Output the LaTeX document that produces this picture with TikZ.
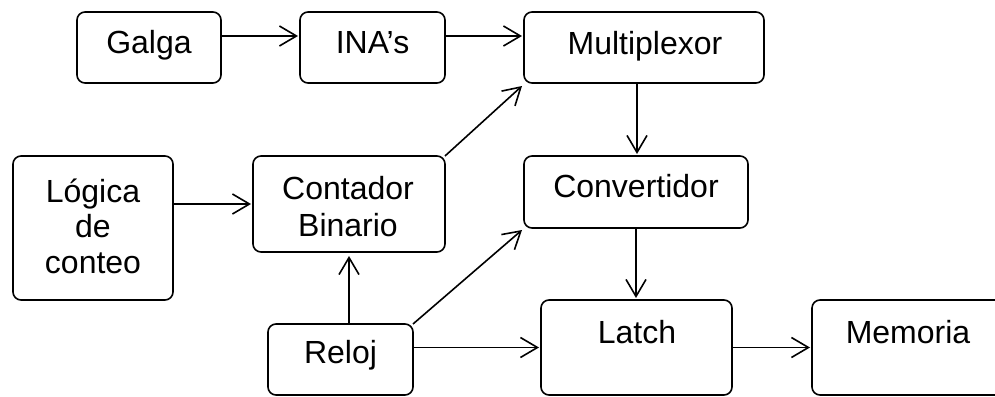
\documentclass[tikz,border=0pt]{standalone}
\usepackage{fontspec}
\setmainfont{Liberation Sans}
\usetikzlibrary{arrows.meta}
\begin{document}
\begin{tikzpicture}[x=1pt,y=-1pt,
  box/.style={draw=black, line width=1.6pt, rounded corners=8pt, inner sep=0pt, outer sep=0pt, rectangle},
  lbl/.style={anchor=base, inner sep=0pt, font=\fontsize{32}{36}\selectfont},
  arr/.style={line width=1.6pt, -{Straight Barb[length=17pt,width=20pt,line width=1.6pt]}}]
\useasboundingbox (0,0) rectangle (995,396);
% boxes
\node[box, minimum width=144pt, minimum height=71pt] (galga) at (149,47.5) {};
\node[box, minimum width=145pt, minimum height=71pt] (ina) at (372.5,47.5) {};
\node[box, minimum width=240pt, minimum height=71pt] (mux) at (644,47.5) {};
\node[box, minimum width=160pt, minimum height=144pt] (logica) at (93,228) {};
\node[box, minimum width=192pt, minimum height=96pt] (cont) at (349,204) {};
\node[box, minimum width=224pt, minimum height=72pt] (conv) at (636,192) {};
\node[box, minimum width=145pt, minimum height=71pt] (reloj) at (340.5,359.5) {};
\node[box, minimum width=191pt, minimum height=95pt] (latch) at (636.5,347.5) {};
\node[box, minimum width=192pt, minimum height=95pt] (mem) at (908,347.5) {};
% labels
\node[lbl] (tgalga) at (149,54) {Galga};
\node[lbl] (tina) at (372.5,54) {INA’s};
\node[lbl] (tmux) at (645,55) {Multiplexor};
\node[lbl] (tlog1) at (93,202) {Lógica};
\node[lbl] (tlog2) at (93,237.5) {de};
\node[lbl] (tlog3) at (93,273) {conteo};
\node[lbl] (tcont1) at (348,199) {Contador};
\node[lbl] (tcont2) at (348,236) {Binario};
\node[lbl] (tconv) at (636,197) {Convertidor};
\node[lbl] (treloj) at (340.5,363) {Reloj};
\node[lbl] (tlatch) at (637,343) {Latch};
\node[lbl] (tmem) at (908,343) {Memoria};
% connectors
\draw[arr] ([yshift=11.5pt]galga.east) -- ([yshift=11.5pt,xshift=-2pt]ina.west);
\draw[arr] ([yshift=11.5pt]ina.east) -- ([yshift=11.5pt,xshift=-2pt]mux.west);
\draw[arr] (cont.north east) -- ([xshift=-2pt,yshift=-3pt]mux.south west);
\draw[arr] ([xshift=-7pt]mux.south) -- ([xshift=1pt,yshift=2pt]conv.north);
\draw[arr] (logica.east |- cont.west) -- ([xshift=-2pt]cont.west);
\draw[arr] (reloj.north -| cont.south) -- ([yshift=-4pt]cont.south);
\draw[arr] (reloj.north east) -- ([xshift=-2pt,yshift=-2pt]conv.south west);
\draw[arr] (conv.south) -- ([xshift=-0.5pt,yshift=2pt]latch.north);
\draw[arr] (reloj.east |- latch.west) -- ([xshift=-2pt]latch.west);
\draw[arr] (latch.east) -- ([xshift=-2pt]mem.west);
\end{tikzpicture}
\end{document}
